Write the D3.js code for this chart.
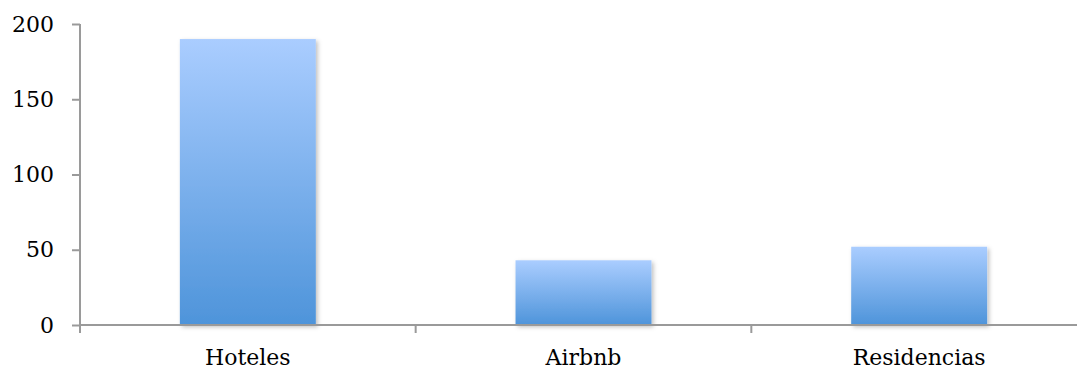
<!DOCTYPE html>
<html>
<head>
<meta charset="utf-8">
<script src="https://cdn.jsdelivr.net/npm/d3@7"></script>
<style>
  body { margin: 0; background: #fff; }
  svg text { font-family: "DejaVu Serif", serif; font-size: 22px; fill: #000; }
</style>
</head>
<body>
<div id="chart"></div>
<script>
var categories = ["Hoteles", "Airbnb", "Residencias"];
var values = [190, 43, 52];
var yTicks = [0, 50, 100, 150, 200];

var width = 1077,
    height = 371,
    plotLeft = 80,
    plotRight = 1087,
    plotTop = 24,
    plotBottom = 325,
    axisColor = "#9a9a9a";

var svg = d3.select("#chart").append("svg")
  .attr("width", width)
  .attr("height", height);

var defs = svg.append("defs");
var grad = defs.append("linearGradient")
  .attr("id", "barGrad")
  .attr("x1", 0).attr("y1", 0).attr("x2", 0).attr("y2", 1);
grad.append("stop").attr("offset", "0%").attr("stop-color", "#aacdff");
grad.append("stop").attr("offset", "100%").attr("stop-color", "#4e94da");

var shadow = defs.append("filter")
  .attr("id", "shadow")
  .attr("x", "-10%").attr("y", "-10%")
  .attr("width", "130%").attr("height", "130%");
shadow.append("feDropShadow")
  .attr("dx", 2).attr("dy", 2)
  .attr("stdDeviation", 2)
  .attr("flood-color", "#000")
  .attr("flood-opacity", 0.25);

var x = d3.scaleBand()
  .domain(categories)
  .range([plotLeft, plotRight])
  .padding(0);

var y = d3.scaleLinear()
  .domain([0, 200])
  .range([plotBottom, plotTop]);

var barW = x.bandwidth() * 0.405;

// bars
svg.selectAll(".bar")
  .data(categories)
  .enter().append("rect")
  .attr("class", "bar")
  .attr("x", function(d) { return x(d) + (x.bandwidth() - barW) / 2; })
  .attr("y", function(d, i) { return y(values[i]); })
  .attr("width", barW)
  .attr("height", function(d, i) { return y(0) - y(values[i]); })
  .attr("fill", "url(#barGrad)")
  .attr("filter", "url(#shadow)");

// y axis
var yAxis = svg.append("g")
  .attr("transform", "translate(" + plotLeft + ",0)")
  .call(d3.axisLeft(y).tickValues(yTicks).tickSize(8).tickPadding(18));
yAxis.select(".domain").remove();
yAxis.selectAll(".tick line").attr("stroke", axisColor).attr("stroke-width", 2);
yAxis.selectAll(".tick text")
  .style("font-family", "DejaVu Serif, serif")
  .style("font-size", "22px")
  .attr("fill", "#000");
yAxis.append("line")
  .attr("x1", 0).attr("x2", 0)
  .attr("y1", plotTop).attr("y2", plotBottom + 8)
  .attr("stroke", axisColor)
  .attr("stroke-width", 2);

// x axis
var xAxis = svg.append("g");
xAxis.append("line")
  .attr("x1", plotLeft).attr("x2", plotRight)
  .attr("y1", plotBottom).attr("y2", plotBottom)
  .attr("stroke", axisColor)
  .attr("stroke-width", 2);
var bounds = categories.map(function(d) { return x(d); }).concat([plotRight]);
xAxis.selectAll(".xtick")
  .data(bounds.slice(1))
  .enter().append("line")
  .attr("class", "xtick")
  .attr("x1", function(d) { return d; })
  .attr("x2", function(d) { return d; })
  .attr("y1", plotBottom)
  .attr("y2", plotBottom + 8)
  .attr("stroke", axisColor)
  .attr("stroke-width", 2);
xAxis.selectAll(".xlabel")
  .data(categories)
  .enter().append("text")
  .attr("class", "xlabel")
  .attr("x", function(d) { return x(d) + x.bandwidth() / 2; })
  .attr("y", plotBottom + 40)
  .attr("text-anchor", "middle")
  .text(function(d) { return d; });
</script>
</body>
</html>
